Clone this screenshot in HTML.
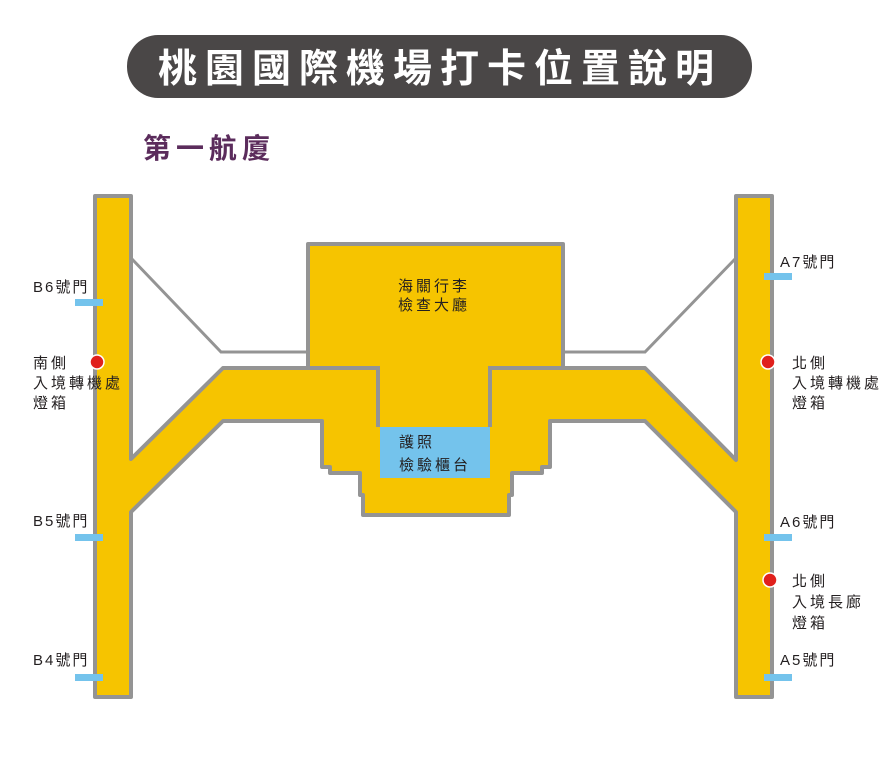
<!DOCTYPE html>
<html><head><meta charset="utf-8"><style>
body{margin:0;background:#fff;width:887px;height:768px;overflow:hidden;font-family:"Liberation Sans","Noto Sans CJK TC",sans-serif}
</style></head><body>
<svg width="887" height="768" viewBox="0 0 887 768" xmlns="http://www.w3.org/2000/svg" style="font-family:'Liberation Sans','Noto Sans CJK TC',sans-serif">
<rect x="127" y="35" width="625" height="63" rx="31" fill="#4a4747"/>
<text x="440" y="82" text-anchor="middle" fill="#fff" font-size="39" font-weight="bold" letter-spacing="8">桃園國際機場打卡位置說明</text>
<text x="143" y="158" fill="#5b2c5c" font-size="28" font-weight="bold" letter-spacing="5">第一航廈</text>
<g stroke="#949494" stroke-width="3" fill="none">
<polyline points="131,258 221,352 308,352"/>
<polyline points="736,258 645,352 563,352"/>
</g>
<polygon fill="#f6c400" stroke="#949494" stroke-width="4" stroke-linejoin="round" points="95,196 131,196 131,459 223,368 308,368 308,244 563,244 563,368 645,368 736,460 736,196 772,196 772,697 736,697 736,512 645,421 550,421 550,467 542,467 542,473 512,473 512,495 509,495 509,515 363,515 363,495 360,495 360,473 330,473 330,467 322,467 322,421 223,421 131,512 131,697 95,697"/>
<g stroke="#949494" stroke-width="4" fill="none">
<polyline points="308,368 378,368 378,427"/>
<polyline points="490,427 490,368 563,368"/>
</g>
<rect x="380" y="427" width="110" height="51" fill="#74c3ec"/>
<g fill="#74c3ec">
<rect x="75" y="299" width="28" height="7"/><rect x="75" y="534" width="28" height="7"/><rect x="75" y="674" width="28" height="7"/>
<rect x="764" y="273" width="28" height="7"/><rect x="764" y="534" width="28" height="7"/><rect x="764" y="674" width="28" height="7"/>
</g>
<g fill="#e0201c" stroke="#fff" stroke-width="1.5">
<circle cx="97" cy="362" r="7"/><circle cx="768" cy="362" r="7"/><circle cx="770" cy="580" r="7"/>
</g>
<g fill="#231f20" font-size="15" letter-spacing="3">
<text x="33" y="292" letter-spacing="2">B6號門</text>
<text x="33" y="526" letter-spacing="2">B5號門</text>
<text x="33" y="665" letter-spacing="2">B4號門</text>
<text x="33" y="368">南側</text>
<text x="33" y="388">入境轉機處</text>
<text x="33" y="408">燈箱</text>
<text x="780" y="267" letter-spacing="2">A7號門</text>
<text x="780" y="527" letter-spacing="2">A6號門</text>
<text x="780" y="665" letter-spacing="2">A5號門</text>
<text x="792" y="368">北側</text>
<text x="792" y="388">入境轉機處</text>
<text x="792" y="408">燈箱</text>
<text x="792" y="586">北側</text>
<text x="792" y="607">入境長廊</text>
<text x="792" y="628">燈箱</text>
<text x="398" y="291">海關行李</text>
<text x="398" y="310">檢查大廳</text>
<text x="399" y="447">護照</text>
<text x="399" y="470">檢驗櫃台</text>
</g>
</svg>
</body></html>
